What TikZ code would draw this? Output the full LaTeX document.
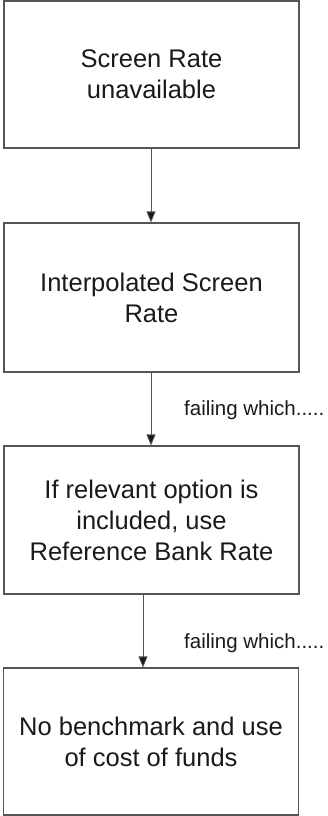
\documentclass[tikz,border=0pt]{standalone}
\usepackage{fontspec}
\setmainfont{Liberation Sans}
\usetikzlibrary{arrows.meta}
\definecolor{boxline}{HTML}{555555}
\definecolor{txt}{HTML}{1A1A1A}
\tikzset{
  stepbox/.style={draw=boxline, line width=1.1pt, fill=white, rectangle, inner sep=0pt,
    minimum width=295pt, align=center, text=txt, font=\fontsize{25.5}{31}\selectfont},
  arr/.style={draw=boxline, line width=0.8pt, -{Triangle[length=11pt,width=9pt,fill=txt]}},
  note/.style={inner sep=0pt, anchor=base west, text=txt, font=\fontsize{20.5}{24}\selectfont}
}
\begin{document}
\begin{tikzpicture}[x=1pt,y=-1pt]
\useasboundingbox (0,0) rectangle (327,816);
\node[stepbox, minimum height=147pt] (b1) at (151.5,74.5) {Screen Rate\\unavailable};
\node[stepbox, minimum height=149pt] (b2) at (151.5,297.5) {Interpolated Screen\\Rate};
\node[stepbox, minimum height=148pt] (b3) at (151.5,520) {If relevant option is\\included, use\\Reference Bank Rate};
\node[stepbox, minimum height=147pt] (b4) at (151,741.5) {No benchmark and use\\of cost of funds};
\coordinate (a1) at (151,0);
\coordinate (a3) at (143,0);
\draw[arr] (b1.south -| a1) -- (b2.north -| a1);
\draw[arr] (b2.south -| a1) -- (b3.north -| a1);
\draw[arr] (b3.south -| a3) -- (b4.north -| a3);
\node[note] (f1) at (184,415) {failing which.....};
\node[note] (f2) at (184,648) {failing which.....};
\end{tikzpicture}
\end{document}
